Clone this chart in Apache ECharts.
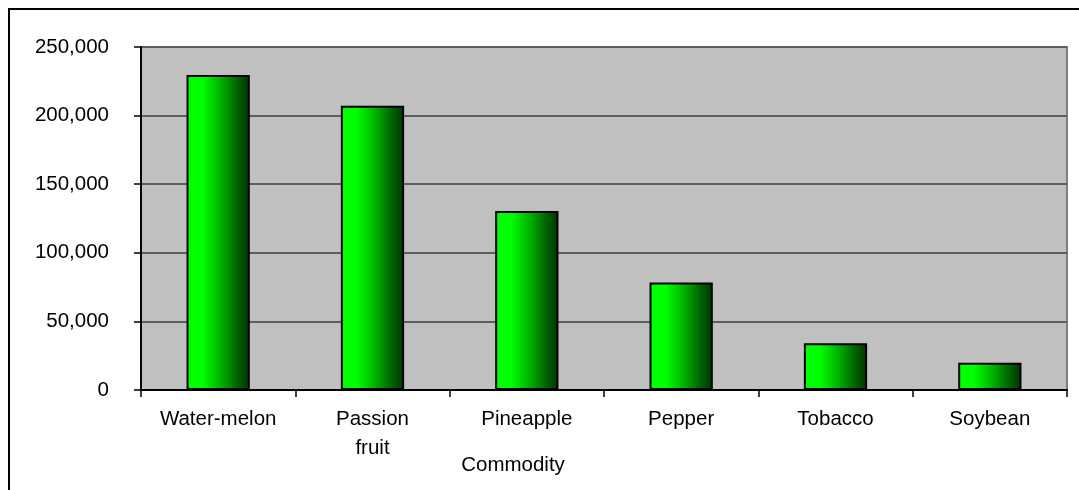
<!DOCTYPE html>
<html>
<head>
<meta charset="utf-8">
<script src="https://cdn.jsdelivr.net/npm/echarts@6/dist/echarts.min.js"></script>
<style>
html,body{margin:0;padding:0;background:#fff;}
#chart{width:1079px;height:490px;}
</style>
</head>
<body>
<div id="chart"></div>
<script>
const categories = ['Water-melon', 'Passion\nfruit', 'Pineapple', 'Pepper', 'Tobacco', 'Soybean'];
const values = [229600, 207200, 130500, 78400, 34000, 19900];
const axisName = 'Commodity';

const chart = echarts.init(document.getElementById('chart'), null, {renderer: 'canvas'});
const font = '"Liberation Sans", Arial, sans-serif';
chart.setOption({
  animation: false,
  backgroundColor: '#ffffff',
  grid: {
    left: 141, right: 12, top: 47, bottom: 100,
    show: true, backgroundColor: '#C0C0C0', borderColor: '#808080', borderWidth: 2,
    containLabel: false
  },
  xAxis: {
    type: 'category',
    data: categories,
    axisLine: {lineStyle: {color: '#000', width: 2}},
    axisTick: {show: true, length: 7, lineStyle: {color: '#000', width: 1.5}},
    axisLabel: {color: '#000', fontFamily: font, fontSize: 20.5, lineHeight: 29, margin: 15, interval: 0}
  },
  yAxis: {
    type: 'value',
    min: 0, max: 250000, interval: 50000,
    axisLine: {show: true, lineStyle: {color: '#000', width: 2}},
    axisTick: {show: true, length: 7, lineStyle: {color: '#000', width: 1.5}},
    axisLabel: {
      color: '#000', fontFamily: font, fontSize: 20.5, margin: 32,
      formatter: v => v.toLocaleString('en-US')
    },
    splitLine: {show: true, lineStyle: {color: '#5e5e5e', width: 2}}
  },
  series: [{
    type: 'bar',
    data: values,
    barWidth: '41%',
    itemStyle: {
      borderColor: '#000', borderWidth: 2,
      color: new echarts.graphic.LinearGradient(0, 0, 1, 0, [
        {offset: 0, color: '#00FF00'},
        {offset: 0.25, color: '#00FF00'},
        {offset: 0.55, color: '#00B000'},
        {offset: 0.8, color: '#006400'},
        {offset: 1, color: '#003300'}
      ])
    }
  }],
  graphic: [
    {
      type: 'rect', silent: true, z: 100,
      shape: {x: 9, y: 9, width: 1200, height: 700},
      style: {fill: 'none', stroke: '#000', lineWidth: 2}
    },
    {
      type: 'text', x: 513, y: 465, z: 100,
      style: {text: axisName, fill: '#000', font: '20.5px ' + font, textAlign: 'center', textVerticalAlign: 'middle'}
    }
  ]
});
</script>
</body>
</html>
